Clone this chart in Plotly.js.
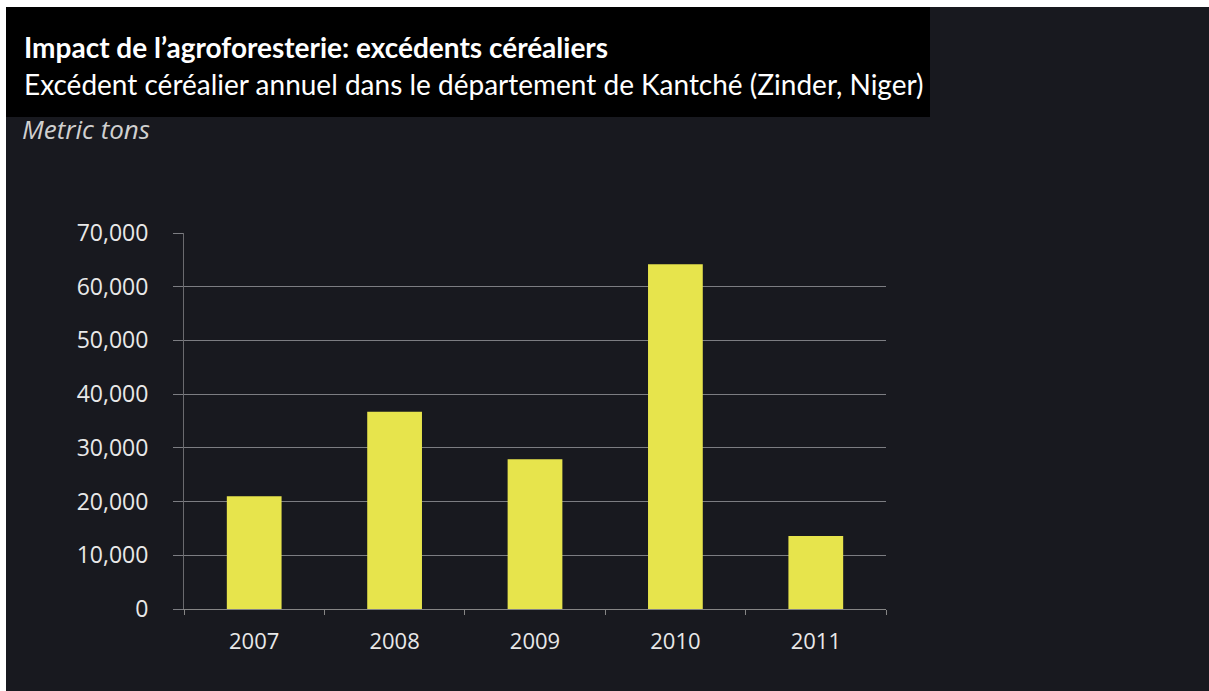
<!DOCTYPE html>
<html>
<head>
<meta charset="utf-8">
<script src="https://cdn.plot.ly/plotly-3.0.1.min.js"></script>
<style>
html,body{margin:0;padding:0;background:#ffffff;width:1209px;height:691px;overflow:hidden;}
#chart{position:absolute;left:6px;top:7px;width:1203px;height:684px;}
</style>
</head>
<body>
<div id="chart"></div>
<script>
const years = ["2007", "2008", "2009", "2010", "2011"];
const surplus = [21000, 36700, 27900, 64200, 13600];
const yTicks = [0, 10000, 20000, 30000, 40000, 50000, 60000, 70000];
const yTickLabels = ["0", "10,000", "20,000", "30,000", "40,000", "50,000", "60,000", "70,000"];

const titleText = "Impact de l’agroforesterie: excédents céréaliers";
const subtitleText = "Excédent céréalier annuel dans le département de Kantché (Zinder, Niger)";
const unitText = "Metric tons";

const trace = {
  type: "bar",
  x: years,
  y: surplus,
  marker: {color: "#e7e44c", line: {width: 0}},
  hoverinfo: "x+y"
};

const W = 702, H = 376, L = 178, T = 226;
const px = v => (v - L) / W;          // div x pixel -> paper x
const py = v => 1 + (T - v) / H;      // div y pixel -> paper y

const layout = {
  width: 1203,
  height: 684,
  paper_bgcolor: "#18191f",
  plot_bgcolor: "rgba(0,0,0,0)",
  margin: {l: 178, r: 323, t: 226, b: 82},
  bargap: 0.61,
  showlegend: false,
  font: {family: "Open Sans, sans-serif", color: "#e2e2e2"},
  xaxis: {
    type: "category",
    showgrid: false,
    showline: true,
    linecolor: "#858585",
    linewidth: 1,
    ticks: "outside",
    tickson: "boundaries",
    ticklen: 5,
    tickcolor: "#858585",
    ticklabelstandoff: 13,
    tickfont: {family: "Open Sans, sans-serif", size: 22, color: "#e8e8e8"},
    fixedrange: true
  },
  yaxis: {
    range: [0, 70000],
    tickvals: yTicks,
    ticktext: yTickLabels,
    showgrid: true,
    gridcolor: "#7c7d82",
    gridwidth: 1,
    zeroline: false,
    showline: true,
    linecolor: "#6a6a6e",
    linewidth: 1,
    ticks: "outside",
    ticklen: 10,
    tickcolor: "#7c7d82",
    ticklabelstandoff: 20,
    tickfont: {family: "Open Sans, sans-serif", size: 23, color: "#e8e8e8"},
    fixedrange: true
  },
  shapes: [
    {type: "rect", xref: "paper", yref: "paper", x0: px(0), x1: px(924), y0: py(110), y1: py(0),
     fillcolor: "#000000", line: {width: 0}, layer: "below"}
  ],
  annotations: [
    {text: titleText, xref: "paper", yref: "paper", x: px(16), y: py(40), xanchor: "left", yanchor: "middle",
     showarrow: false, font: {family: "Lato, sans-serif", size: 28, color: "#ffffff", weight: 700}},
    {text: subtitleText, xref: "paper", yref: "paper", x: px(16), y: py(77), xanchor: "left", yanchor: "middle",
     showarrow: false, font: {family: "Lato, sans-serif", size: 28, color: "#ffffff"}},
    {text: "<i>" + unitText + "</i>", xref: "paper", yref: "paper", x: px(14), y: py(122), xanchor: "left", yanchor: "middle",
     showarrow: false, font: {family: "Open Sans, sans-serif", size: 26, color: "#d0d0d0"}}
  ]
};

Plotly.newPlot("chart", [trace], layout, {displayModeBar: false, staticPlot: true});
</script>
</body>
</html>
